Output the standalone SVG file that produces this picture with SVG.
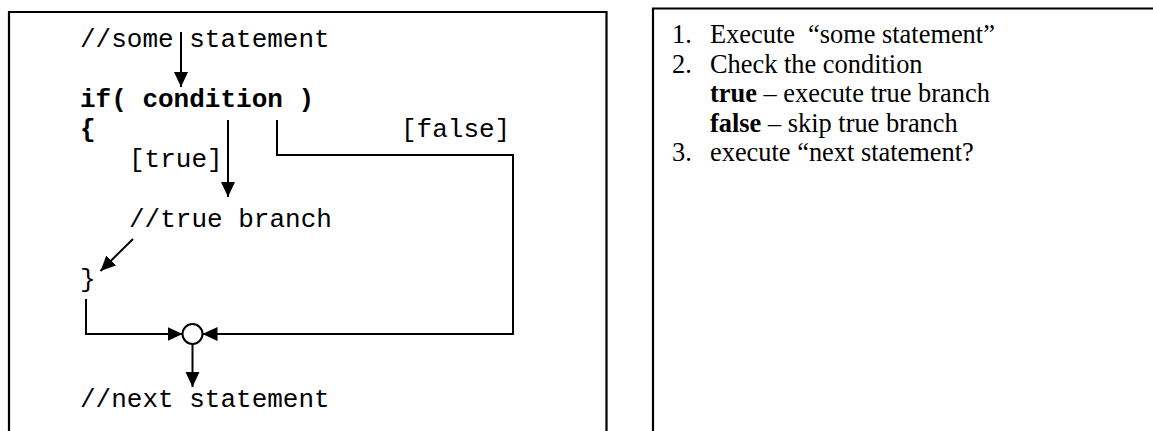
<svg xmlns="http://www.w3.org/2000/svg" width="1153" height="431" viewBox="0 0 1153 431">
<style>
.frame{fill:none;stroke:#000;stroke-width:2.2}
.code{font-family:"Liberation Mono","Courier New",monospace;font-size:26px;fill:#000}
.b{font-weight:bold}
.prose{font-family:"Liberation Serif","Times New Roman",serif;font-size:26.4px;fill:#000}
.conn{fill:none;stroke:#000;stroke-width:2}
.merge{fill:#fff;stroke:#000;stroke-width:2}
</style>
<defs>
<marker id="ah" markerUnits="userSpaceOnUse" markerWidth="16" markerHeight="15" refX="15" refY="7" orient="auto">
<path d="M0,0 L15,7 L0,14 z" fill="#000"/>
</marker>
</defs>
<rect width="1153" height="431" fill="#fff"/>
<g id="panel-left">
<path class="frame" d="M9,433 V12 H606.5 V433"/>
</g>
<g id="panel-right">
<path class="frame" d="M653,433 V8.5 H1155"/>
</g>
<g id="n-some"><text class="code" x="80" y="47">//some statement</text></g>
<g id="n-if"><text class="code b" x="80" y="107">if( condition )</text></g>
<g id="n-open"><text class="code b" x="80" y="137">{</text></g>
<g id="n-false-label"><text class="code" x="401" y="137">[false]</text></g>
<g id="n-true-label"><text class="code" x="129" y="167">[true]</text></g>
<g id="n-true-branch"><text class="code" x="129" y="227">//true branch</text></g>
<g id="n-close"><text class="code" x="80" y="287">}</text></g>
<g id="n-merge"><circle class="merge" cx="192.5" cy="334" r="10"/></g>
<g id="n-next"><text class="code" x="80" y="407">//next statement</text></g>
<g id="connectors">
<path class="conn" marker-end="url(#ah)" d="M181,32 V87"/>
<path class="conn" marker-end="url(#ah)" d="M228,120 V197"/>
<path class="conn" marker-end="url(#ah)" d="M133,239 L100.5,271"/>
<path class="conn" marker-end="url(#ah)" d="M86,299 V334 H182.5"/>
<path class="conn" marker-end="url(#ah)" d="M277,120 V155 H513 V334 H202.5"/>
<path class="conn" marker-end="url(#ah)" d="M192.5,344 V387"/>
</g>
<g id="n-steps">
<text class="prose" y="43"><tspan x="672">1.</tspan><tspan x="710">Execute</tspan><tspan x="808">“some statement”</tspan></text>
<text class="prose" y="72.5"><tspan x="672">2.</tspan><tspan x="710">Check the condition</tspan></text>
<text class="prose" x="710" y="102"><tspan font-weight="bold">true</tspan> – execute true branch</text>
<text class="prose" x="710" y="131.5"><tspan font-weight="bold">false</tspan> – skip true branch</text>
<text class="prose" y="161"><tspan x="672">3.</tspan><tspan x="710">execute “next statement?</tspan></text>
</g>
</svg>
